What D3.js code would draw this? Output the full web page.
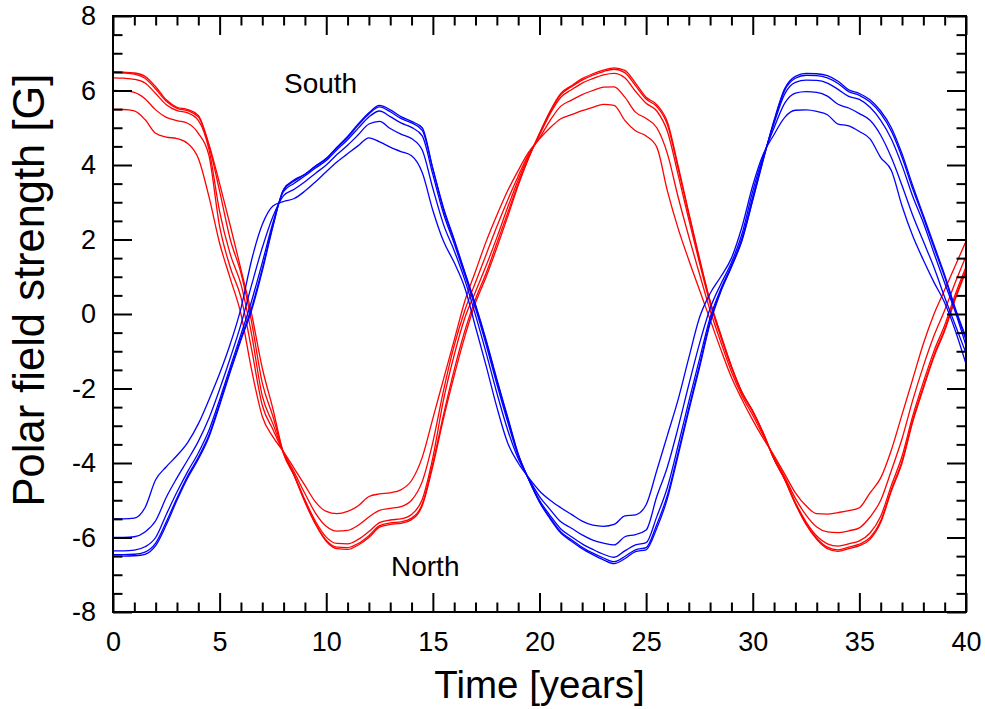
<!DOCTYPE html>
<html>
<head>
<meta charset="utf-8">
<script src="https://cdn.jsdelivr.net/npm/d3@7"></script>
<style>
  body { margin: 0; background: #fff; }
  svg { font-family: "Liberation Sans", Arial, sans-serif; }
  .tick text { font-size: 27px; fill: #000; }
  .tick line { stroke: #000; stroke-width: 2; }
</style>
</head>
<body>
<svg width="985" height="709"></svg>
<script>
// sample times [years]
var years = [0,0.5,1,1.5,2,2.5,3,3.5,4,4.5,5,5.5,6,6.5,7,7.5,8,8.5,9,9.5,
  10,10.5,11,11.5,12,12.5,13,13.5,14,14.5,15,15.5,16,16.5,17,17.5,18,18.5,19,19.5,
  20,20.5,21,21.5,22,22.5,23,23.5,24,24.5,25,25.5,26,26.5,27,27.5,28,28.5,29,29.5,
  30,30.5,31,31.5,32,32.5,33,33.5,34,34.5,35,35.5,36,36.5,37,37.5,38,38.5,39,39.5,40];

// North polar field, five runs [G]
var northA = [6.50,6.49,6.47,6.38,6.10,5.75,5.55,5.49,5.33,4.55,
  3.50,2.37,1.20,0.00,-1.45,-2.55,-3.75,-4.35,-5.05,-5.65,
  -6.10,-6.30,-6.32,-6.20,-6.00,-5.72,-5.65,-5.62,-5.52,-5.15,
  -4.08,-2.80,-1.65,-0.60,0.30,1.00,1.78,2.60,3.45,4.20,
  4.85,5.45,5.92,6.13,6.32,6.45,6.55,6.61,6.54,6.20,
  5.82,5.62,5.15,3.98,2.72,1.50,0.35,-0.55,-1.40,-2.10,
  -2.60,-3.20,-3.90,-4.45,-5.10,-5.65,-6.05,-6.30,-6.37,-6.30,
  -6.22,-6.05,-5.60,-4.75,-4.00,-2.90,-2.00,-1.15,-0.45,0.40,
  1.15];
var northB = [6.48,6.47,6.44,6.33,6.04,5.71,5.52,5.46,5.29,4.52,
  3.30,2.00,1.10,-0.22,-1.85,-2.75,-3.74,-4.34,-5.03,-5.63,
  -6.07,-6.26,-6.27,-6.16,-5.95,-5.68,-5.61,-5.58,-5.48,-5.10,
  -4.00,-2.70,-1.50,-0.45,0.40,1.10,1.90,2.70,3.50,4.20,
  4.84,5.43,5.89,6.10,6.28,6.41,6.51,6.57,6.48,6.13,
  5.77,5.57,5.08,3.91,2.67,1.46,0.33,-0.57,-1.41,-2.11,
  -2.61,-3.21,-3.90,-4.44,-5.09,-5.63,-6.02,-6.26,-6.33,-6.26,
  -6.18,-6.00,-5.55,-4.71,-3.95,-2.85,-1.95,-1.10,-0.41,0.44,
  1.18];
var northC = [6.34,6.33,6.30,6.20,5.92,5.62,5.46,5.40,5.20,4.42,
  2.75,1.60,0.80,-0.55,-2.20,-2.95,-3.73,-4.32,-4.99,-5.57,
  -5.99,-6.16,-6.17,-6.05,-5.84,-5.60,-5.53,-5.50,-5.38,-4.98,
  -3.85,-2.30,-1.10,-0.10,0.60,1.30,2.05,2.85,3.60,4.25,
  4.80,5.38,5.82,6.02,6.20,6.32,6.42,6.46,6.34,5.98,
  5.66,5.45,4.90,3.74,2.54,1.38,0.28,-0.61,-1.44,-2.13,
  -2.63,-3.22,-3.89,-4.43,-5.06,-5.58,-5.96,-6.17,-6.23,-6.17,
  -6.09,-5.88,-5.43,-4.60,-3.82,-2.74,-1.83,-0.99,-0.30,0.53,
  1.26];
var northD = [6.00,5.99,5.95,5.78,5.48,5.28,5.19,5.12,4.85,4.25,
  2.35,1.25,0.45,-0.95,-2.45,-3.10,-3.72,-4.25,-4.82,-5.35,
  -5.70,-5.83,-5.81,-5.67,-5.45,-5.27,-5.22,-5.17,-5.00,-4.50,
  -3.44,-2.05,-0.85,0.10,0.85,1.60,2.35,3.05,3.70,4.30,
  4.72,5.20,5.58,5.74,5.89,6.00,6.09,6.10,5.82,5.42,
  5.25,5.00,4.30,3.14,2.08,1.08,0.10,-0.75,-1.55,-2.20,
  -2.72,-3.28,-3.85,-4.38,-4.95,-5.40,-5.72,-5.85,-5.87,-5.82,
  -5.74,-5.45,-5.00,-4.20,-3.35,-2.32,-1.40,-0.58,0.10,0.85,
  1.55];
var northE = [5.49,5.49,5.45,5.22,4.85,4.75,4.71,4.58,4.18,3.15,
  1.90,0.95,0.00,-1.50,-2.75,-3.30,-3.70,-4.15,-4.60,-5.05,
  -5.30,-5.36,-5.30,-5.15,-4.90,-4.83,-4.80,-4.72,-4.47,-3.85,
  -2.80,-1.75,-0.70,0.35,1.15,1.95,2.65,3.30,3.85,4.35,
  4.70,5.00,5.24,5.35,5.46,5.55,5.63,5.60,5.20,4.92,
  4.78,4.48,3.30,2.30,1.45,0.65,-0.15,-0.95,-1.70,-2.30,
  -2.85,-3.35,-3.80,-4.30,-4.80,-5.15,-5.36,-5.37,-5.33,-5.28,
  -5.20,-4.80,-4.40,-3.65,-2.70,-1.75,-0.80,0.00,0.65,1.30,
  1.95];

// South polar field, five runs [G]
var southA = [-6.50,-6.50,-6.49,-6.45,-6.22,-5.66,-5.00,-4.40,-3.90,-3.30,
  -2.45,-1.55,-0.70,0.10,1.15,2.35,3.35,3.60,3.75,3.97,
  4.18,4.48,4.77,5.10,5.40,5.60,5.48,5.30,5.17,5.00,
  3.90,2.85,2.00,1.12,0.25,-0.70,-1.75,-2.75,-3.75,-4.45,
  -5.05,-5.50,-5.88,-6.10,-6.30,-6.46,-6.60,-6.70,-6.57,-6.38,
  -6.33,-5.75,-4.95,-3.80,-2.60,-1.45,-0.25,0.60,1.26,1.98,
  3.05,4.15,5.20,6.05,6.38,6.46,6.45,6.40,6.25,6.02,
  5.92,5.75,5.45,5.00,4.30,3.45,2.65,1.85,1.05,0.15,
  -0.62];
var southB = [-6.46,-6.46,-6.45,-6.39,-6.15,-5.58,-4.94,-4.35,-3.85,-3.25,
  -2.40,-1.51,-0.65,0.17,1.22,2.38,3.33,3.57,3.75,3.97,
  4.16,4.46,4.74,5.07,5.37,5.56,5.43,5.25,5.13,4.93,
  3.89,2.80,1.97,1.10,0.22,-0.74,-1.79,-2.79,-3.77,-4.45,
  -5.04,-5.47,-5.85,-6.06,-6.26,-6.42,-6.55,-6.65,-6.51,-6.33,
  -6.27,-5.65,-4.86,-3.72,-2.53,-1.38,-0.20,0.62,1.27,2.00,
  3.08,4.17,5.17,6.01,6.33,6.41,6.40,6.34,6.19,5.97,
  5.87,5.69,5.38,4.91,4.21,3.36,2.59,1.78,0.99,0.10,
  -0.69];
var southC = [-6.36,-6.36,-6.34,-6.25,-6.00,-5.38,-4.78,-4.23,-3.73,-3.12,
  -2.30,-1.42,-0.55,0.35,1.38,2.45,3.29,3.51,3.71,3.92,
  4.12,4.41,4.68,4.99,5.29,5.45,5.30,5.13,5.01,4.78,
  3.74,2.69,1.89,1.04,0.15,-0.83,-1.88,-2.88,-3.80,-4.44,
  -5.00,-5.41,-5.77,-5.98,-6.17,-6.32,-6.45,-6.53,-6.36,-6.20,
  -6.14,-5.44,-4.65,-3.53,-2.35,-1.22,-0.10,0.67,1.30,2.04,
  3.15,4.20,5.12,5.91,6.22,6.28,6.27,6.20,6.03,5.84,
  5.76,5.55,5.20,4.70,3.99,3.16,2.45,1.63,0.83,0.05,
  -0.85];
var southD = [-6.00,-6.00,-5.98,-5.85,-5.55,-4.92,-4.40,-3.92,-3.42,-2.80,
  -2.02,-1.18,-0.28,0.78,1.78,2.62,3.18,3.35,3.55,3.78,
  4.00,4.28,4.53,4.81,5.10,5.17,4.98,4.83,4.71,4.40,
  3.37,2.40,1.70,0.91,-0.03,-1.05,-2.12,-3.10,-3.88,-4.42,
  -4.90,-5.25,-5.58,-5.75,-5.93,-6.07,-6.15,-6.20,-5.98,-5.92,
  -5.80,-4.90,-4.10,-3.05,-1.90,-0.80,0.15,0.80,1.38,2.16,
  3.30,4.25,5.00,5.66,5.93,5.97,5.95,5.85,5.63,5.53,
  5.38,5.20,4.80,4.20,3.45,2.65,1.95,1.25,0.45,-0.30,
  -1.05];
var southE = [-5.50,-5.50,-5.48,-5.20,-4.45,-4.10,-3.80,-3.45,-2.95,-2.30,
  -1.60,-0.80,0.15,1.45,2.40,2.90,3.02,3.10,3.30,3.55,
  3.82,4.08,4.30,4.52,4.73,4.62,4.48,4.36,4.25,3.80,
  2.78,1.95,1.38,0.70,-0.35,-1.40,-2.50,-3.45,-4.00,-4.40,
  -4.75,-5.00,-5.20,-5.38,-5.56,-5.67,-5.70,-5.65,-5.42,-5.39,
  -5.12,-4.20,-3.25,-2.30,-1.18,-0.10,0.55,1.00,1.50,2.35,
  3.45,4.30,4.82,5.28,5.47,5.48,5.44,5.35,5.10,5.05,
  4.90,4.70,4.20,3.85,2.90,2.10,1.45,0.85,0.30,-0.45,
  -1.34];

// ticks
var xMajor = [0, 5, 10, 15, 20, 25, 30, 35, 40];
var xMinor = [1,2,3,4,6,7,8,9,11,12,13,14,16,17,18,19,21,22,23,24,26,27,28,29,31,32,33,34,36,37,38,39];
var yMajor = [-8, -6, -4, -2, 0, 2, 4, 6, 8];
var yMinor = [-7.5,-7,-6.5,-5.5,-5,-4.5,-3.5,-3,-2.5,-1.5,-1,-0.5,0.5,1,1.5,2.5,3,3.5,4.5,5,5.5,6.5,7,7.5];

var north = [northA, northB, northC, northD, northE];
var south = [southA, southB, southC, southD, southE];

// plot box
var boxLeft = 113, boxTop = 16, boxRight = 966, boxBottom = 612;

var svg = d3.select("svg");

var x = d3.scaleLinear().domain([0, 40]).range([boxLeft, boxRight]);
var y = d3.scaleLinear().domain([-8, 8]).range([boxBottom, boxTop]);

var line = d3.line()
  .x(function(d, i) { return x(years[i]); })
  .y(function(d) { return y(d); })
  .curve(d3.curveMonotoneX);

var plot = svg.append("g");

plot.selectAll(".north")
  .data(north)
  .enter()
  .append("path")
    .attr("class", "north")
    .attr("d", line)
    .attr("fill", "none")
    .attr("stroke", "#ff0000")
    .attr("stroke-width", 1.3);

plot.selectAll(".south")
  .data(south)
  .enter()
  .append("path")
    .attr("class", "south")
    .attr("d", line)
    .attr("fill", "none")
    .attr("stroke", "#0000ff")
    .attr("stroke-width", 1.3);

function fmt(d) { return String(d); }

// axes, ticks pointing inwards on all four sides
function addAxis(axis, tx, ty) {
  var g = svg.append("g").attr("transform", "translate(" + tx + "," + ty + ")").call(axis);
  g.select(".domain").remove();
  return g;
}

addAxis(d3.axisBottom(x).tickValues(xMajor).tickSize(-19).tickPadding(20).tickFormat(fmt), 0, boxBottom);
addAxis(d3.axisBottom(x).tickValues(xMinor).tickSize(-9.5).tickFormat(""), 0, boxBottom);
addAxis(d3.axisTop(x).tickValues(xMajor).tickSize(-19).tickFormat(""), 0, boxTop);
addAxis(d3.axisTop(x).tickValues(xMinor).tickSize(-9.5).tickFormat(""), 0, boxTop);

addAxis(d3.axisLeft(y).tickValues(yMajor).tickSize(-19).tickPadding(17).tickFormat(fmt), boxLeft, 0);
addAxis(d3.axisLeft(y).tickValues(yMinor).tickSize(-9.5).tickFormat(""), boxLeft, 0);
addAxis(d3.axisRight(y).tickValues(yMajor).tickSize(-19).tickFormat(""), boxRight, 0);
addAxis(d3.axisRight(y).tickValues(yMinor).tickSize(-9.5).tickFormat(""), boxRight, 0);

svg.append("rect")
  .attr("x", boxLeft)
  .attr("y", boxTop)
  .attr("width", boxRight - boxLeft)
  .attr("height", boxBottom - boxTop)
  .attr("fill", "none")
  .attr("stroke", "#000")
  .attr("stroke-width", 2);

// titles
svg.append("text")
  .attr("x", (boxLeft + boxRight) / 2)
  .attr("y", 698)
  .attr("text-anchor", "middle")
  .attr("font-size", 38.5)
  .text("Time [years]");

svg.append("text")
  .attr("transform", "translate(44,290)rotate(-90)")
  .attr("text-anchor", "middle")
  .attr("font-size", 43.5)
  .text("Polar field strength [G]");

svg.append("text")
  .attr("x", 284)
  .attr("y", 93)
  .attr("font-size", 28)
  .text("South");

svg.append("text")
  .attr("x", 391)
  .attr("y", 576)
  .attr("font-size", 28)
  .text("North");
</script>
</body>
</html>
